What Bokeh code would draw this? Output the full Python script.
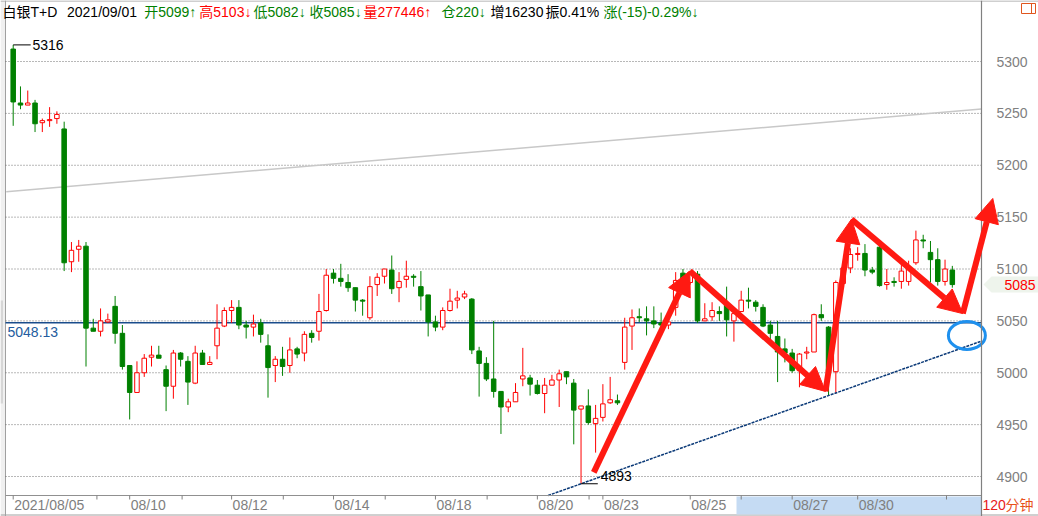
import numpy as np
from bokeh.plotting import figure
from bokeh.models import (Range1d, ColumnDataSource, Span, Label, LabelSet, Arrow,
                          NormalHead)
from bokeh.core.properties import value
from bokeh.embed import file_html
from bokeh.resources import INLINE

# ---------------- data (120-minute bars, 白银T+D) ----------------
opens = [5312,5260,5258,5260,5241,5243,5245,5235,5107,5119,
         5122,5043,5040,5049,5064,5038,5007,4981,5000,5015,
         5017,5003,4987,5019,5011,4990,5019,5008,5026,5045,
         5060,5063,5046,5044,5048,5026,5007,5013,5007,5023,
         5019,5038,5040,5060,5096,5091,5087,5082,5070,5053,
         5085,5093,5099,5082,5090,5093,5083,5075,5049,5044,
         5060,5070,5073,5071,5021,5009,4994,4982,4967,4972,
         4994,4995,4988,4980,4988,4993,5001,4990,4965,4968,
         4951,4957,4971,4973,5010,5045,5054,5052,5050,5048,
         5046,5063,5096,5087,5095,5050,5054,5059,5067,5050,
         5059,5070,5068,5063,5046,5035,5023,5019,5002,5019,
         5020,5056,5044,5001,5086,5101,5114,5115,5099,5121,
         5085,5088,5088,5088,5106,5128,5116,5109,5088,5099]
highs = [5316,5276,5272,5263,5245,5256,5252,5242,5126,5128,
         5126,5052,5062,5057,5074,5046,5007,5011,5018,5026,
         5026,5007,5022,5020,5016,5026,5022,5016,5066,5063,
         5070,5070,5050,5056,5052,5037,5016,5025,5034,5025,
         5040,5041,5076,5100,5100,5105,5095,5082,5071,5093,
         5096,5100,5113,5097,5108,5095,5098,5075,5055,5063,
         5081,5079,5079,5072,5025,5015,5050,4982,4975,4990,
         5024,4998,4993,4995,4998,5003,5001,4994,4968,4984,
         4969,4989,4996,4979,5053,5061,5062,5064,5064,5058,
         5055,5097,5100,5098,5098,5067,5068,5064,5083,5058,
         5079,5082,5070,5066,5050,5050,5033,5023,5019,5025,
         5057,5066,5045,5089,5104,5120,5121,5124,5102,5123,
         5100,5092,5105,5108,5137,5133,5127,5120,5109,5103]
lows = [5238,5254,5258,5232,5232,5237,5240,5098,5097,5107,
        5006,5040,5035,5048,5028,5003,4955,4981,4996,5006,
        5014,4963,4975,5006,4969,4989,5008,5008,5013,5044,
        5048,5042,5033,5035,5029,4976,4991,4997,5000,5014,
        5011,5029,5031,5059,5086,5083,5078,5059,5055,5051,
        5074,5086,5076,5068,5082,5083,5060,5035,5040,5041,
        5059,5062,5071,5018,4977,4992,4976,4941,4962,4972,
        4987,4978,4979,4961,4988,4967,4989,4931,4893,4950,
        4923,4953,4970,4969,5003,5022,5049,5036,5043,5040,
        5042,5055,5085,5085,5048,5050,5050,5050,5035,5030,
        5059,5062,5059,5044,5032,4991,5010,5000,4986,5013,
        5020,5050,4978,4980,5084,5096,5108,5093,5095,5083,
        5080,5083,5081,5084,5104,5120,5087,5084,5084,5082]
closes = [5261,5258,5260,5240,5243,5244,5249,5106,5118,5122,
          5043,5040,5050,5051,5038,5006,4981,5000,5014,5017,
          5014,4987,5019,5013,4991,5019,5008,5010,5043,5060,
          5063,5046,5044,5047,5037,5005,5013,5006,5022,5018,
          5037,5034,5059,5094,5091,5088,5082,5070,5069,5083,
          5092,5100,5081,5088,5093,5092,5074,5049,5044,5060,
          5069,5072,5076,5022,5009,4994,4982,4967,4972,4981,
          4997,4989,4980,4988,4993,4999,4996,4964,4968,4952,
          4956,4970,4974,4971,5044,5053,5053,5050,5047,5046,
          5049,5089,5090,5097,5050,5052,5060,5057,5051,5057,
          5070,5069,5064,5045,5038,5020,5019,5002,5018,5020,
          5056,5053,5001,5087,5101,5114,5115,5099,5097,5084,
          5087,5087,5098,5102,5128,5127,5109,5088,5100,5085]

date_tick_idx = [0, 16, 30, 44, 58, 72, 81, 93, 107, 116]
date_tick_labels = ["2021/08/05", "08/10", "08/12", "08/14", "08/18",
                    "08/20", "08/23", "08/25", "08/27", "08/30"]
minor_tick_idx = [11.5, 23.2, 37.1, 51.1, 65.1, 79.1, 100.0, 128.2]
price_ticks = [4900, 4950, 5000, 5050, 5100, 5150, 5200, 5250, 5300]

ref_level = 5048.13
last_price = 5085
period_label = ["120", "分钟"]
guide_idx = [-0.96, 133.0]
guide_price = [5174.4, 5254.2]
trend_anchor_idx = [78, 112]
arrow_idx = [79.75, 92.94, 111.58, 115.15, 130.44, 134.56]
arrow_price = [4904, 5098, 4982, 5148, 5057, 5168]
circle_idx = [131.0]
circle_price = [5036]

header_texts = ["白银T+D", "2021/09/01", "开5099↑", "高5103↓", "低5082↓", "收5085↓",
                "量277446↑", "仓220↓", "增16230", "振0.41%", "涨(-15)-0.29%↓"]
header_colors = ["#000000", "#000000", "#008000", "#ff0000", "#008000", "#008000",
                 "#ff0000", "#008000", "#000000", "#000000", "#008000"]
header_x = [2, 66.5, 143.7, 198.8, 253, 309, 363, 441, 490, 545, 603]

# ---------------- geometry ----------------
W, H = 1038, 516
AX_R = 981                        # right price-axis line (px)
PLOT_L = 5                        # left border line (px)
DATE_AX_Y = 495                   # date axis line (px)
X0, PX_BAR = 12.7, 7.28           # px of bar 0, px per bar
Y5300, PX_PT = 61, 1.0375         # px of 5300, px per price point

x_start = (0 - X0) / PX_BAR
x_end = (W - X0) / PX_BAR
y_end = 5300 + Y5300 / PX_PT
y_start = y_end - H / PX_PT
idx_at = lambda px: (px - X0) / PX_BAR

FONT = "Liberation Sans, Noto Sans CJK SC"
RED = "#ff0000"
GREEN = "#008000"
GREY = "#808080"
ARROW_RED = "#ff1a12"

p = figure(width=W, height=H, x_range=Range1d(x_start, x_end),
           y_range=Range1d(y_start, y_end), x_axis_location=None,
           y_axis_location=None, output_backend="svg", toolbar_location=None,
           min_border=0, background_fill_color="white", border_fill_color="white",
           outline_line_color=None)
p.extra_x_ranges = {"px": Range1d(0, W)}
p.extra_y_ranges = {"py": Range1d(H, 0)}
p.xgrid.visible = False
p.ygrid.visible = False

# frame borders / left strip
p.quad(left=[0], right=[PLOT_L], top=[0], bottom=[H], x_range_name="px",
       y_range_name="py", fill_color="#f0f0f0", line_color=None)
p.quad(left=[0], right=[2.5], top=[300], bottom=[403], x_range_name="px",
       y_range_name="py", fill_color="#d6d6d6", line_color=None)
p.segment(x0=[PLOT_L, 0, 0], y0=[0, 0.5, 514.5], x1=[PLOT_L, W, W],
          y1=[H, 0.5, 514.5], x_range_name="px", y_range_name="py",
          line_color="#a0a0a0", line_width=1)

# price grid (dotted) and price axis
p.segment(x0=[PLOT_L] * len(price_ticks), y0=price_ticks,
          x1=[AX_R] * len(price_ticks), y1=price_ticks, x_range_name="px",
          line_color="#707070", line_width=1, line_dash="1 2")
p.add_layout(Span(location=AX_R, dimension="height", x_range_name="px",
                  line_color=GREY, line_width=1.2))
p.text(x=[AX_R + 15] * len(price_ticks), y=price_ticks,
       text=[str(t) for t in price_ticks], x_range_name="px",
       text_color=GREY, text_font=value(FONT), text_font_size="14px",
       text_baseline="middle", text_align="left")

# reference lines
p.line(guide_idx, guide_price, line_color="#c8c8c8", line_width=1.5)
p.segment(x0=[idx_at(PLOT_L)], y0=[ref_level], x1=[idx_at(AX_R)], y1=[ref_level],
          line_color="#1a4d8c", line_width=1.5)

# candles
idx = np.arange(len(opens))
o = np.array(opens, float); c = np.array(closes, float)
up = c >= o
src = ColumnDataSource(dict(
    x=idx, h=highs, l=lows,
    top=np.maximum(o, c), bot=np.minimum(o, c),
    color=np.where(up, RED, GREEN), fill=np.where(up, "#ffffff", GREEN)))
p.segment(x0="x", y0="l", x1="x", y1="h", line_color="color", line_width=1, source=src)
p.vbar(x="x", width=0.62, top="top", bottom="bot", fill_color="fill",
       line_color="color", line_width=1, source=src)

# trend line through the two lows
lw = np.array(lows, float)
i1, i2 = trend_anchor_idx
slope = (lw[i2] - lw[i1]) / (i2 - i1)
axis_price = 5300 - (DATE_AX_Y - Y5300) / PX_PT
t0 = i1 + (axis_price - lw[i1]) / slope
tx = np.array([t0, idx_at(AX_R)])
p.line(tx, lw[i1] + slope * (tx - i1), line_color="#0b3a78", line_width=1.5,
       line_dash="3 1")

# high / low markers
imax = int(np.argmax(highs)); imin = int(np.argmin(lows))
p.segment(x0=[imax, imin], y0=[highs[imax], lows[imin]],
          x1=[imax + 2.4, imin + 2.3], y1=[highs[imax], lows[imin]],
          line_color="black", line_width=1)
p.text(x=[imax + 2.65, imin + 2.7],
       y=[highs[imax], lows[imin] + 8 / PX_PT],
       text=[str(highs[imax]), str(lows[imin])], text_color="black",
       text_font=value(FONT), text_font_size="14px", text_baseline="middle",
       text_align="left")

# ref-level label
p.add_layout(Label(x=7, x_range_name="px", y=ref_level - 9 / PX_PT,
                   text=f"{ref_level:.2f}", text_color="#245c9e", text_font=FONT,
                   text_font_size="14px", text_baseline="middle", text_align="left"))

# arrows
for k in range(len(arrow_idx) - 1):
    p.add_layout(Arrow(end=NormalHead(size=24, fill_color=ARROW_RED,
                                      line_color=ARROW_RED, line_width=1),
                       x_start=arrow_idx[k], y_start=arrow_price[k],
                       x_end=arrow_idx[k + 1], y_end=arrow_price[k + 1],
                       line_color=ARROW_RED, line_width=6))

# blue circle
p.ellipse(x=circle_idx, y=circle_price, width=37, height=28, width_units="screen",
          height_units="screen", fill_color=None, line_color="#1e90ee", line_width=3)

# bottom date axis
p.quad(left=[736], right=[AX_R], top=[496], bottom=[514], x_range_name="px",
       y_range_name="py", fill_color="#c5dbf3", line_color=None)
p.segment(x0=[PLOT_L], y0=[DATE_AX_Y], x1=[AX_R], y1=[DATE_AX_Y],
          x_range_name="px", y_range_name="py", line_color="#909090", line_width=1)
all_ticks = date_tick_idx + minor_tick_idx
p.segment(x0=all_ticks, y0=[DATE_AX_Y] * len(all_ticks), x1=all_ticks,
          y1=[DATE_AX_Y + 4] * len(all_ticks), y_range_name="py",
          line_color=GREY, line_width=1)
dsrc = ColumnDataSource(dict(x=date_tick_idx, y=[504] * len(date_tick_idx),
                             t=date_tick_labels))
p.add_layout(LabelSet(x="x", y="y", text="t", source=dsrc, y_range_name="py",
                      x_offset=1, text_font=value(FONT), text_font_size="14px",
                      text_color=GREY, text_baseline="middle", text_align="left"))

# header
for t, col, hx in zip(header_texts, header_colors, header_x):
    p.add_layout(Label(x=hx, y=11, x_range_name="px", y_range_name="py",
                       text=t, text_color=col, text_font=FONT, text_font_size="14px",
                       text_baseline="middle", text_align="left"))

# top-right icon
p.quad(left=[1021], right=[1035], top=[3], bottom=[13], x_range_name="px",
       y_range_name="py", fill_color=None, line_color="#e0561e", line_width=1)
p.segment(x0=[1031], y0=[3], x1=[1031], y1=[13], x_range_name="px",
          y_range_name="py", line_color="#e0561e", line_width=1)

# last price tag
tag_top = last_price + 8 / PX_PT
tag_bot = last_price - 8 / PX_PT
p.patch(x=[983, 991, W, W, 991], y=[last_price, tag_top, tag_top, tag_bot, tag_bot],
        x_range_name="px", fill_color="#eef4ec", line_color=None)
p.text(x=[1004], y=[last_price], text=[str(last_price)], x_range_name="px",
       text_color=RED, text_font=value(FONT), text_font_size="14px",
       text_baseline="middle", text_align="left")

# period label
p.text(x=[982, 1005], y=[504, 504], text=period_label, x_range_name="px",
       y_range_name="py", text_color=["#e8201a", "#e8501a"],
       text_font=value(FONT), text_font_size="14px", text_baseline="middle",
       text_align="left")

open("out.html", "w").write(file_html(p, INLINE))
